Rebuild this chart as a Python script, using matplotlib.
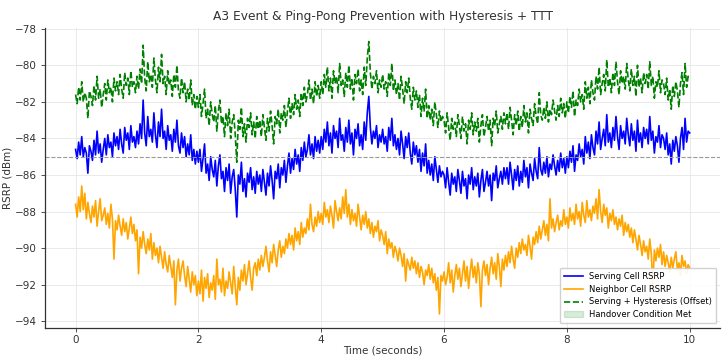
import numpy as np
import matplotlib.pyplot as plt

# time axis, 0..10 s in 0.025 s steps
time_s = [round(i * 0.025, 3) for i in range(401)]

serving_rsrp = [
    -84.6, -85.1, -84.2, -84.9, -83.9, -85.0, -84.5, -84.8, -85.9, -84.4,
    -84.7, -85.2, -84.1, -84.9, -83.6, -84.8, -84.3, -85.3, -84.6, -84.0,
    -84.9, -83.8, -84.5, -84.2, -85.0, -83.7, -84.4, -83.9, -84.6, -83.5,
    -84.3, -84.8, -83.4, -84.1, -83.7, -84.6, -83.3, -84.2, -83.9, -84.5,
    -83.6, -84.3, -83.2, -84.0, -81.9, -83.7, -84.4, -82.8, -83.9, -83.5,
    -84.2, -82.6, -83.8, -84.5, -83.1, -83.9, -82.4, -84.0, -83.6, -84.6,
    -83.3, -84.1, -83.8, -84.7, -83.5, -84.2, -83.0, -84.4, -84.8, -83.7,
    -84.5, -83.9, -85.0, -84.3, -84.9, -83.8, -85.2, -84.6, -85.4, -84.7,
    -85.3, -84.6, -85.8, -85.1, -84.3, -85.9, -85.4, -86.3, -85.0, -85.7,
    -86.1, -85.2, -86.6, -85.5, -84.9, -86.2, -85.8, -86.9, -85.6, -86.3,
    -85.4, -87.0, -86.1, -85.7, -86.8, -88.3, -86.0, -86.5, -85.3, -86.9,
    -86.2, -87.2, -85.9, -86.4, -85.6, -86.8, -86.1, -87.0, -85.8, -86.5,
    -86.0, -86.9, -85.7, -86.4, -87.1, -85.9, -86.6, -85.5, -86.3, -87.3,
    -85.8, -86.2, -85.4, -86.7, -85.6, -86.0, -85.2, -86.4, -85.5, -84.8,
    -85.9, -85.1, -85.7, -84.6, -85.4, -84.9, -85.8, -84.5, -85.2, -84.2,
    -85.0, -84.6, -83.8, -84.9, -84.3, -85.1, -83.9, -84.7, -84.1, -84.8,
    -83.9, -84.6, -83.5, -84.2, -83.1, -84.4, -83.7, -84.8, -83.3, -84.0,
    -83.6, -84.5, -82.9, -84.1, -83.8, -84.7, -83.4, -84.2, -83.0, -84.3,
    -83.7, -84.9, -83.5, -84.0, -83.2, -84.4, -83.8, -84.6, -83.1, -84.1,
    -82.6, -81.7, -83.4, -84.3, -83.6, -84.0, -83.3, -84.5, -83.8, -84.2,
    -83.5, -84.3, -83.9, -84.7, -83.4, -84.1, -82.9, -84.4, -83.8, -84.6,
    -84.0, -84.9, -83.6, -84.3, -85.1, -83.9, -84.5, -83.7, -84.8, -85.4,
    -84.2, -84.9, -84.4, -85.3, -84.6, -85.8, -84.8, -85.5, -84.3, -85.9,
    -85.2, -86.0, -85.4, -86.3, -85.0, -85.7, -86.4, -85.5, -86.1, -85.8,
    -86.0, -86.7, -85.6, -86.4, -87.1, -85.9, -86.5, -86.1, -86.9, -85.7,
    -86.3, -87.0, -85.8, -86.6, -86.2, -87.3, -86.0, -86.5, -85.6, -86.8,
    -86.1, -86.6, -85.9, -87.2, -86.3, -85.7, -86.9, -86.4, -85.8, -86.6,
    -86.0, -87.4, -85.9, -86.3, -85.5, -86.7, -86.2, -85.8, -86.5, -85.6,
    -86.2, -85.6, -86.5, -85.3, -86.0, -86.8, -85.7, -86.3, -85.5, -86.6,
    -85.8, -86.4, -85.2, -86.1, -85.6, -86.7, -85.4, -85.9, -86.3, -85.1,
    -85.8, -86.2, -84.5, -85.7, -86.0, -85.3, -85.9, -85.0, -86.1, -85.4,
    -85.7, -84.9, -85.5, -86.0, -85.2, -85.8, -84.8, -85.6, -85.1, -85.9,
    -85.0, -85.6, -84.7, -85.3, -84.4, -85.8, -84.9, -85.2, -84.3, -85.0,
    -84.6, -85.4, -83.9, -84.8, -84.2, -85.1, -83.8, -84.5, -84.9, -83.6,
    -84.3, -83.1, -84.6, -84.0, -83.5, -84.4, -82.7, -84.2, -83.7, -84.5,
    -83.4, -84.1, -82.8, -83.9, -84.6, -83.3, -84.0, -83.6, -84.3, -82.9,
    -83.8, -84.4, -83.2, -84.1, -83.6, -84.7, -83.0, -84.2, -83.7, -84.5,
    -83.4, -84.0, -83.5, -84.3, -82.8, -84.1, -83.6, -84.8, -83.9, -84.2,
    -83.3, -84.5, -83.8, -84.0, -84.6, -83.7, -84.9, -84.3, -85.4, -84.1,
    -84.7, -83.9, -84.4, -85.3, -84.0, -83.4, -84.6, -82.9, -84.2, -83.6,
    -83.7,
]

neighbor_rsrp = [
    -87.6, -88.3, -87.2, -88.0, -86.6, -87.9, -87.0, -88.4, -87.5, -88.1,
    -88.6, -87.7, -88.3, -87.4, -88.8, -88.0, -87.3, -88.5, -88.2, -87.8,
    -88.7, -88.1, -88.9, -87.6, -88.4, -90.6, -88.5, -89.0, -88.2, -88.8,
    -89.3, -88.4, -89.1, -88.6, -89.5, -88.9, -88.3, -89.2, -88.7, -89.6,
    -89.0, -91.4, -89.4, -90.0, -89.1, -89.8, -90.3, -89.5, -90.1, -89.2,
    -90.6, -89.7, -90.4, -90.0, -90.8, -89.9, -90.5, -91.1, -90.2, -90.9,
    -91.3, -90.4, -91.0, -91.6, -90.7, -93.1, -91.2, -90.6, -91.8, -91.1,
    -90.7, -91.5, -92.1, -91.0, -91.7, -92.4, -91.3, -92.0, -91.5, -92.6,
    -91.8, -92.5, -91.2, -92.9, -91.6, -92.2, -91.4, -92.7, -91.9, -92.3,
    -91.5, -92.8, -90.6, -92.0, -91.7, -92.4, -91.1, -92.6, -91.8, -92.2,
    -91.3, -91.9, -92.5, -91.0, -92.1, -93.1, -91.6, -92.3, -91.2, -91.8,
    -90.9, -92.0, -91.4, -90.7, -91.6, -92.3, -91.1, -90.8, -91.5, -90.6,
    -91.2, -90.4, -91.0, -90.5, -89.9, -90.7, -91.3, -90.2, -90.8, -89.8,
    -90.4, -91.0, -90.1, -89.6, -90.5, -89.9, -90.3, -89.5, -90.0, -89.2,
    -89.8, -89.3, -90.1, -88.9, -89.6, -89.1, -89.8, -88.6, -89.4, -88.9,
    -89.2, -88.4, -89.0, -87.6, -88.7, -89.1, -88.3, -88.8, -88.0, -88.6,
    -88.1, -88.7, -87.5, -88.3, -87.9, -88.6, -87.7, -88.2, -88.9, -87.4,
    -88.0, -88.5, -87.8, -88.4, -87.2, -88.1, -86.8, -88.3, -87.6, -88.7,
    -87.9, -88.5, -88.1, -88.8, -87.6, -88.3, -89.0, -88.2, -88.7, -88.0,
    -88.9, -88.4, -89.2, -88.6, -89.4, -88.8, -89.1, -88.5, -89.6, -89.0,
    -89.3, -89.8, -89.1, -90.3, -89.5, -90.0, -89.7, -90.5, -89.9, -90.2,
    -90.7, -90.0, -90.4, -91.0, -90.3, -91.8, -90.6, -90.9, -91.2, -90.5,
    -91.1, -90.7, -91.4, -90.8, -91.6, -91.0, -91.3, -92.0, -91.2, -91.5,
    -90.9, -91.7, -91.1, -91.9, -91.4, -92.3, -91.6, -93.6, -91.5, -91.8,
    -91.3, -92.0, -91.6, -90.8, -91.9, -91.2, -92.4, -91.5, -90.9, -91.7,
    -91.1, -92.1, -91.4, -90.7, -91.8, -91.0, -92.2, -91.3, -90.6, -91.6,
    -91.0, -91.9, -90.8, -91.4, -93.2, -91.2, -90.7, -91.5, -90.9, -92.0,
    -91.1, -90.5, -91.4, -90.8, -91.7, -90.3, -91.0, -92.1, -90.6, -91.2,
    -90.4, -91.0, -90.2, -90.8, -89.9, -90.6, -91.1, -90.0, -90.5, -89.7,
    -90.3, -89.5, -90.1, -89.8, -90.4, -89.3, -89.9, -90.6, -89.4, -89.8,
    -89.1, -89.7, -88.8, -89.5, -89.0, -88.5, -89.3, -88.7, -89.6, -87.3,
    -88.9, -88.4, -89.1, -88.6, -88.2, -89.0, -88.5, -88.8, -87.9, -88.7,
    -88.3, -88.9, -87.8, -88.5, -88.1, -88.7, -87.6, -88.4, -88.0, -88.8,
    -87.5, -88.2, -88.6, -87.4, -88.3, -87.9, -88.5, -87.7, -88.1, -87.3,
    -88.4, -86.8, -88.0, -88.6, -87.6, -88.2, -87.8, -88.9, -88.1, -88.5,
    -87.9, -88.7, -88.3, -89.0, -88.4, -88.8, -88.2, -89.3, -88.6, -89.1,
    -88.7, -89.4, -88.9, -89.7, -89.0, -89.5, -90.1, -89.3, -89.8, -90.4,
    -89.6, -90.2, -89.9, -90.6, -89.5, -90.3, -92.0, -90.1, -90.7, -90.0,
    -90.5, -89.8, -90.9, -90.2, -91.0, -90.4, -90.8, -91.3, -90.5, -91.1,
    -90.6, -90.2, -91.2, -90.8, -91.5, -90.4, -91.0, -90.7, -91.4, -90.9,
    -91.1,
]

hysteresis_db = 3.0
a3_threshold = -85.0

t = np.array(time_s)
serving = np.array(serving_rsrp)
neighbor = np.array(neighbor_rsrp)
offset = serving + hysteresis_db
handover = neighbor > offset

fig, ax = plt.subplots(figsize=(7.24, 3.58), dpi=100)
fig.subplots_adjust(left=0.062, right=0.995, top=0.922, bottom=0.085)

ax.plot(t, serving, color='blue', lw=1.2, label='Serving Cell RSRP')
ax.plot(t, neighbor, color='orange', lw=1.2, label='Neighbor Cell RSRP')
ax.plot(t, offset, color='green', lw=1.2, ls='--', label='Serving + Hysteresis (Offset)')
ax.fill_between(t, 0, 1, where=handover, color='green', alpha=0.15,
                transform=ax.get_xaxis_transform(), label='Handover Condition Met')
ax.axhline(a3_threshold, color='#999999', ls='--', lw=0.8)

ax.set_title('A3 Event & Ping-Pong Prevention with Hysteresis + TTT', fontsize=8.8, color='#333333')
ax.set_xlabel('Time (seconds)', fontsize=7.5, color='#333333', labelpad=0)
ax.set_ylabel('RSRP (dBm)', fontsize=7.5, color='#333333', labelpad=2)
ax.tick_params(labelsize=7.5, colors='#333333', length=3, width=0.6, pad=2.5)
ax.set_yticks(np.arange(-94, -77, 2))
ax.grid(True, color='#e6e6e6', lw=0.6)
for side in ['top', 'right']:
    ax.spines[side].set_visible(False)
for side in ['left', 'bottom']:
    ax.spines[side].set_color('#333333')
    ax.spines[side].set_linewidth(0.9)

ax.legend(loc='lower right', fontsize=6, framealpha=0.9, handlelength=2.2,
          borderpad=0.5, labelspacing=0.45)

plt.savefig('out.png', dpi=100)
